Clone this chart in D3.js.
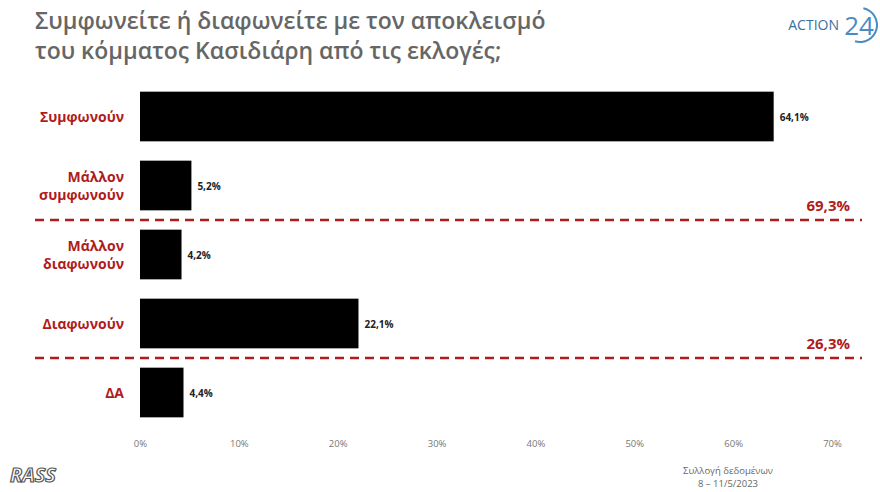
<!DOCTYPE html>
<html><head><meta charset="utf-8">
<script src="https://cdn.jsdelivr.net/npm/d3@7"></script>
<style>body{margin:0;background:#fff}text{font-family:"Open Sans",sans-serif}</style>
</head><body><svg id="c" width="880" height="492"></svg>
<script>
// data
var categories = [["Συμφωνούν"], ["Μάλλον", "συμφωνούν"], ["Μάλλον", "διαφωνούν"], ["Διαφωνούν"], ["ΔΑ"]];
var values = [64.1, 5.2, 4.2, 22.1, 4.4];
var totals = [{after: 1, label: "69,3%"}, {after: 3, label: "26,3%"}];
var ticks = [0, 10, 20, 30, 40, 50, 60, 70];

var svg = d3.select('#c');
var x = d3.scaleLinear().domain([0, 70]).range([140, 832]);
var y = d3.scaleBand().domain(d3.range(categories.length)).range([82, 427]).paddingInner(0.28).paddingOuter(0.14);
var fmt = function (v) { return v.toFixed(1).replace('.', ',') + '%'; };

// title
svg.append('text').attr('x', 35).attr('y', 29).attr('font-size', 23).attr('font-weight', 600).attr('fill', '#666').text('Συμφωνείτε ή διαφωνείτε με τον αποκλεισμό');
svg.append('text').attr('x', 35).attr('y', 59).attr('font-size', 23).attr('font-weight', 600).attr('fill', '#666').text('του κόμματος Κασιδιάρη από τις εκλογές;');

// logo
svg.append('text').attr('x', 839).attr('y', 30).attr('font-size', 14).attr('fill', '#3a6fa0').attr('text-anchor', 'end').text('ACTION');
svg.append('text').attr('x', 859).attr('y', 35).attr('font-size', 26).attr('fill', '#4a8bc2').attr('text-anchor', 'middle').text('24');
svg.append('path').attr('d', d3.arc()({innerRadius: 16, outerRadius: 18, startAngle: 0.2, endAngle: Math.PI + 0.3}))
  .attr('transform', 'translate(860,25)').attr('fill', '#4a8bc2');

// bars
svg.selectAll('rect.bar').data(values).enter().append('rect').attr('class', 'bar')
  .attr('x', x(0)).attr('y', function (d, i) { return y(i); })
  .attr('width', function (d) { return x(d) - x(0); }).attr('height', y.bandwidth()).attr('fill', '#000');
svg.selectAll('text.val').data(values).enter().append('text').attr('class', 'val')
  .attr('x', function (d) { return x(d) + 6; }).attr('y', function (d, i) { return y(i) + y.bandwidth() / 2 + 4; })
  .attr('font-size', 10).attr('font-weight', 'bold').attr('fill', '#222').text(fmt);

// category labels
categories.forEach(function (c, i) {
  var cy = y(i) + y.bandwidth() / 2;
  c.forEach(function (line, j) {
    svg.append('text').attr('x', 124).attr('y', cy + 5 + (j - (c.length - 1) / 2) * 18)
      .attr('text-anchor', 'end').attr('font-size', 14).attr('font-weight', 'bold').attr('fill', '#b01c1c').text(line);
  });
});

// dashed separators and totals
totals.forEach(function (t) {
  var ly = (y(t.after) + y.bandwidth() + y(t.after + 1)) / 2;
  svg.append('line').attr('x1', 35).attr('x2', 862).attr('y1', ly).attr('y2', ly)
    .attr('stroke', '#b01c1c').attr('stroke-width', 2.5).attr('stroke-dasharray', '9,6');
  svg.append('text').attr('x', 850).attr('y', ly - 9).attr('text-anchor', 'end').attr('font-size', 15)
    .attr('font-weight', 'bold').attr('fill', '#b01c1c').text(t.label);
});

// axis
var ax = svg.append('g').attr('transform', 'translate(0,428)')
  .call(d3.axisBottom(x).tickValues(ticks).tickSize(0).tickPadding(12).tickFormat(function (d) { return d + '%'; }));
ax.select('.domain').remove();
ax.selectAll('text').attr('font-size', 9.5).attr('fill', '#777').style('font-family', '"Open Sans",sans-serif');

// footer
svg.append('text').attr('x', 10).attr('y', 482).attr('font-size', 20).attr('font-style', 'italic').attr('font-weight', 'bold')
  .attr('fill', '#fff').attr('stroke', '#555').attr('stroke-width', 1.2).text('RASS');
svg.append('text').attr('x', 728).attr('y', 474).attr('text-anchor', 'middle').attr('font-size', 9.5).attr('fill', '#666').text('Συλλογή δεδομένων');
svg.append('text').attr('x', 728).attr('y', 487).attr('text-anchor', 'middle').attr('font-size', 9.5).attr('fill', '#666').text('8 – 11/5/2023');
</script></body></html>
